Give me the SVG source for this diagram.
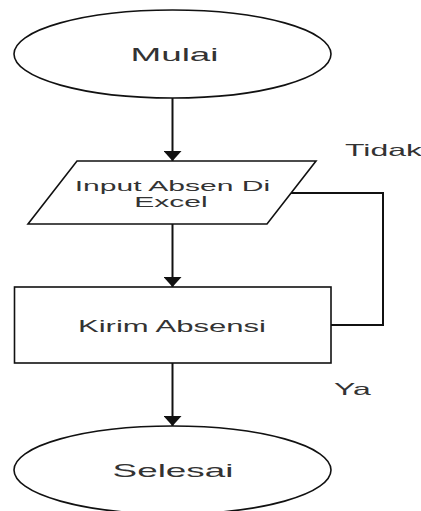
<svg xmlns="http://www.w3.org/2000/svg" width="421" height="511" viewBox="0 0 421 511">
<defs>
<style>
.shape{fill:#fff;stroke:#111;stroke-width:1.6}
.edge{fill:none;stroke:#111;stroke-width:2}
.t{font-family:"Liberation Sans",Arial,sans-serif;fill:#333;text-anchor:middle}
.l{font-family:"Liberation Sans",Arial,sans-serif;fill:#333}
</style>
<marker id="arr" viewBox="0 0 10 18" refX="10" refY="9" markerWidth="10" markerHeight="18" markerUnits="userSpaceOnUse" orient="auto">
<path d="M0,0 L10,9 L0,18 z" fill="#111"/>
</marker>
</defs>
<rect width="421" height="511" fill="#fff"/>
<g id="connectors">
<line class="edge" x1="172.5" y1="98" x2="172.5" y2="161" marker-end="url(#arr)"/>
<line class="edge" x1="172.5" y1="224" x2="172.5" y2="287" marker-end="url(#arr)"/>
<line class="edge" x1="172.5" y1="363" x2="172.5" y2="426" marker-end="url(#arr)"/>
<polyline class="edge" points="291,193 383,193 383,325 331,325"/>
</g>
<g id="mulai">
<ellipse class="shape" cx="172.5" cy="54" rx="158.5" ry="44"/>
<text class="t" transform="translate(174.5,61) scale(1.94,1)" font-size="19">Mulai</text>
</g>
<g id="input">
<polygon class="shape" points="77,161 316,161 267,224 28,224"/>
<text class="t" transform="translate(172.5,191) scale(1.94,1)" font-size="15.5">Input Absen Di</text>
<text class="t" transform="translate(171,207) scale(1.94,1)" font-size="15.5">Excel</text>
</g>
<g id="kirim">
<rect class="shape" x="14.5" y="287" width="316.5" height="76"/>
<text class="t" transform="translate(172,332) scale(1.94,1)" font-size="16">Kirim Absensi</text>
</g>
<g id="selesai">
<ellipse class="shape" cx="172.5" cy="470" rx="158.5" ry="44"/>
<text class="t" transform="translate(173,477) scale(1.94,1)" font-size="19">Selesai</text>
</g>
<g id="labels">
<text class="l" transform="translate(345,156) scale(1.94,1)" font-size="16.5">Tidak</text>
<text class="l" transform="translate(334,395) scale(1.94,1)" font-size="16.5">Ya</text>
</g>
</svg>
